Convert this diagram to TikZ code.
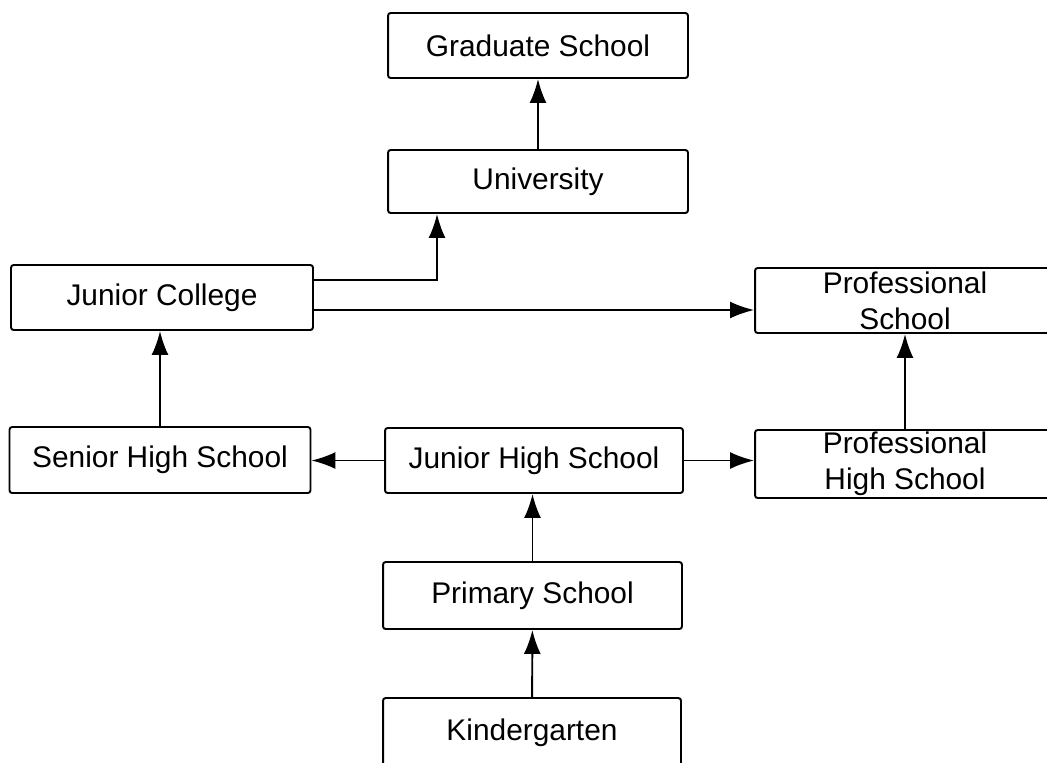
\documentclass[tikz,border=0pt]{standalone}
\usepackage{fontspec}
\setmainfont{Liberation Sans}
\usetikzlibrary{arrows.meta}
\begin{document}
\begin{tikzpicture}[x=0.02cm,y=-0.02cm,line width=1.1pt,
  school/.style={draw,rounded corners=1.5pt,minimum width=6cm,minimum height=1.3cm,
    align=center,inner sep=0pt,font=\fontsize{17}{20.5}\selectfont},
  arr/.style={-{Latex[length=0.48cm,width=0.34cm]}}]
\useasboundingbox (0,0) rectangle (1047,762);
% top column
\node[school] (grad) at (538,45.5) {Graduate School};
\node[school,minimum height=1.26cm] (univ) at (538,181.5) {University};
% left and right columns
\node[school,minimum width=6.04cm] (jc) at (162,297.5) {Junior College};
\node[school] (ps) at (905,300.5) {Professional\\School};
\node[school,minimum width=6.02cm,minimum height=1.32cm] (sh) at (160,460) {Senior High School};
\node[school,minimum width=5.96cm] (jh) at (534,460.5) {Junior High School};
\node[school,minimum height=1.36cm] (phs) at (905,464) {Professional\\High School};
% bottom column
\node[school,minimum width=5.98cm,minimum height=1.34cm] (prim) at (532.5,595.5) {Primary School};
\node[school,minimum width=5.96cm,minimum height=1.4cm] (kind) at (532,733) {Kindergarten};
%  arrows
\draw[arr] (univ) -- (grad);
\draw[arr] ([yshift=0.35cm]jc.east) -| ([xshift=-2.02cm]univ.south);
\draw[arr] ([yshift=-0.25cm]jc.east) -- ([yshift=-0.25cm]jc.east -| ps.west);
\draw[arr] (sh.north) -- (sh.north |- jc.south);
\draw[arr] (jh.west) -- (jh.west -| sh.east);
\draw[arr] (jh.east) -- (jh.east -| phs.west);
\draw[arr] (phs.north) -- (ps.south);
\draw[arr] (prim.north) -- (prim.north |- jh.south);
\draw[arr] (kind) -- (prim);
\end{tikzpicture}
\end{document}
